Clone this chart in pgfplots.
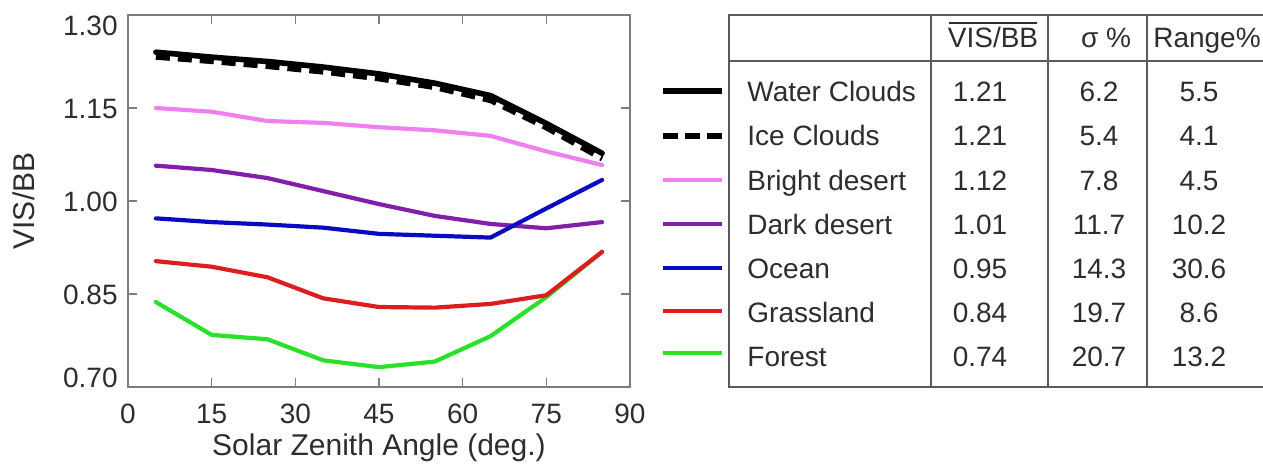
\documentclass[border=0pt]{standalone}
\usepackage{pgfplots}
\pgfplotsset{compat=1.18}
\usepackage{fontspec}
\setmainfont{Liberation Sans}
\definecolor{axisgray}{RGB}{125,125,125}
\definecolor{tablegray}{RGB}{90,90,90}
\definecolor{textgray}{RGB}{45,45,45}
\definecolor{brightdesert}{RGB}{240,128,240}
\definecolor{darkdesert}{RGB}{130,30,170}
\definecolor{ocean}{RGB}{10,10,195}
\definecolor{grassland}{RGB}{222,30,30}
\definecolor{forest}{RGB}{40,225,40}
\newcommand{\tfont}{\fontsize{14bp}{16bp}\selectfont}
\newcommand{\trow}[5]{%
  \node[anchor=base west, inner sep=0pt, text=textgray, font=\tfont] at (axis cs:747,#1) {#2};
  \node[anchor=base, inner sep=0pt, text=textgray, font=\tfont] at (axis cs:980,#1) {#3};
  \node[anchor=base, inner sep=0pt, text=textgray, font=\tfont] at (axis cs:1099,#1) {#4};
  \node[anchor=base, inner sep=0pt, text=textgray, font=\tfont] at (axis cs:1199,#1) {#5};}
\begin{document}
\begin{tikzpicture}[font=\fontsize{14bp}{16bp}\selectfont]
\begin{axis}[
  at={(64bp,39.5bp)}, anchor=south west, scale only axis,
  width=251bp, height=186bp,
  xmin=0, xmax=90, ymin=0.70, ymax=1.30,
  xtick={0,15,30,45,60,75,90},
  xticklabels={0,15,30,45,60,75,90},
  ytick={0.70,0.85,1.00,1.15,1.30},
  yticklabels={
    \raisebox{0bp}[0pt][0pt]{0.70},
    \raisebox{-5bp}[0pt][0pt]{0.85},
    \raisebox{-5bp}[0pt][0pt]{1.00},
    \raisebox{-5bp}[0pt][0pt]{1.15},
    \raisebox{-10bp}[0pt][0pt]{1.30}},
  /pgf/number format/assume math mode=true,
  tick align=inside, major tick length=4.5bp,
  axis line style={draw=axisgray, line width=0.6bp},
  every tick/.style={draw=axisgray, line width=0.6bp},
  xticklabel style={anchor=base, yshift=-18bp, inner sep=0pt, text=textgray},
  yticklabel style={anchor=east, inner sep=0pt, xshift=-5bp, text=textgray},
  xlabel={Solar Zenith Angle (deg.)}, ylabel={VIS/BB},
  label style={font=\fontsize{15bp}{17bp}\selectfont},
  xlabel style={at={(axis description cs:0.5,-0.1828)}, anchor=base, text=textgray},
  ylabel style={at={(axis description cs:-0.1853,0.5)}, anchor=base, text=textgray},
  every axis plot/.append style={line join=round, line cap=round},
]
\addplot[forest, line width=2.1bp] coordinates {(5,0.837)(15,0.784)(25,0.777)(35,0.743)(45,0.732)(55,0.741)(65,0.782)(75,0.845)(85,0.918)};
\addplot[grassland, line width=2.1bp] coordinates {(5,0.903)(15,0.894)(25,0.877)(35,0.843)(45,0.829)(55,0.828)(65,0.834)(75,0.848)(85,0.918)};
\addplot[darkdesert, line width=2.1bp] coordinates {(5,1.057)(15,1.050)(25,1.037)(35,1.016)(45,0.995)(55,0.976)(65,0.963)(75,0.956)(85,0.966)};
\addplot[ocean, line width=2.1bp] coordinates {(5,0.972)(15,0.966)(25,0.962)(35,0.957)(45,0.947)(55,0.944)(65,0.941)(75,0.988)(85,1.034)};
\addplot[brightdesert, line width=2.1bp] coordinates {(5,1.150)(15,1.144)(25,1.129)(35,1.126)(45,1.119)(55,1.114)(65,1.105)(75,1.080)(85,1.058)};
\addplot[black, line width=2.6bp, line cap=butt, dash pattern=on 7bp off 4bp] coordinates {(5,1.232)(15,1.225)(25,1.217)(35,1.208)(45,1.197)(55,1.183)(65,1.162)(75,1.118)(85,1.068)};
\addplot[black, line width=2.8bp] coordinates {(5,1.240)(15,1.232)(25,1.225)(35,1.216)(45,1.205)(55,1.190)(65,1.170)(75,1.125)(85,1.077)};
\end{axis}
\begin{axis}[
  at={(0bp,0bp)}, anchor=south west, scale only axis,
  width=631.5bp, height=233bp,
  xmin=0, xmax=1263, ymin=0, ymax=466, y dir=reverse,
  hide axis, clip=false,
]
% legend samples
\addplot[black, line width=2.8bp] coordinates {(663,91)(722,91)};
\addplot[black, line width=2.8bp, dash pattern=on 7.5bp off 3.5bp] coordinates {(663,136)(722,136)};
\addplot[brightdesert, line width=2.1bp] coordinates {(663,180)(722,180)};
\addplot[darkdesert, line width=2.1bp] coordinates {(663,224)(722,224)};
\addplot[ocean, line width=2.1bp] coordinates {(663,268)(722,268)};
\addplot[grassland, line width=2.1bp] coordinates {(663,311)(722,311)};
\addplot[forest, line width=2.1bp] coordinates {(663,353)(722,353)};
% table frame
\draw[tablegray, line width=0.8bp] (axis cs:1263,15) -- (axis cs:729,15) -- (axis cs:729,387) -- (axis cs:1263,387);
\draw[tablegray, line width=0.8bp] (axis cs:729,61) -- (axis cs:1263,61);
\draw[tablegray, line width=0.8bp] (axis cs:931,15) -- (axis cs:931,387);
\draw[tablegray, line width=0.8bp] (axis cs:1048,15) -- (axis cs:1048,387);
\draw[tablegray, line width=0.8bp] (axis cs:1147,15) -- (axis cs:1147,387);
% header
\draw[textgray, line width=0.7bp] (axis cs:949,23) -- (axis cs:1037,23);
\node[anchor=base, inner sep=0pt, text=textgray, font=\tfont] at (axis cs:993,48) {VIS/BB};
\node[anchor=base, inner sep=0pt, text=textgray, font=\tfont] at (axis cs:1106,48) {σ \%};
\node[anchor=base, inner sep=0pt, text=textgray, font=\tfont] at (axis cs:1207,48) {Range\%};
% rows
\trow{102}{Water Clouds}{1.21}{6.2}{5.5}
\trow{146}{Ice Clouds}{1.21}{5.4}{4.1}
\trow{190}{Bright desert}{1.12}{7.8}{4.5}
\trow{234}{Dark desert}{1.01}{11.7}{10.2}
\trow{278}{Ocean}{0.95}{14.3}{30.6}
\trow{322}{Grassland}{0.84}{19.7}{8.6}
\trow{366}{Forest}{0.74}{20.7}{13.2}
\end{axis}
\pgfresetboundingbox
\path (0bp,0bp) rectangle (631.5bp,233bp);
\end{tikzpicture}
\end{document}
